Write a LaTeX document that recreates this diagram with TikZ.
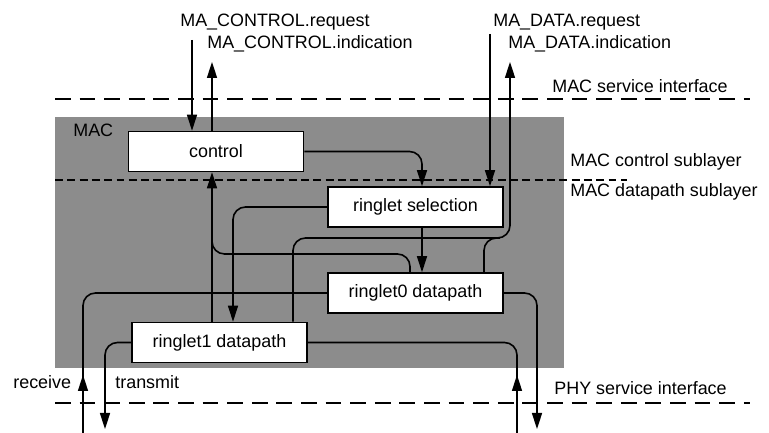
\documentclass[tikz,border=0pt]{standalone}
\usepackage{fontspec}
\setmainfont{Liberation Sans}
\usetikzlibrary{arrows.meta}
\tikzset{
    >={Triangle[length=3.2mm,width=2mm]},
    block/.style={draw, line width=0.9pt, fill=white, minimum width=3.5cm, minimum height=0.8cm},
    lbl/.style={anchor=base west, inner sep=0pt},
    iface/.style={line width=0.6pt, dash pattern=on 9pt off 5pt},
    sublayer/.style={line width=1.2pt, dash pattern=on 4.5pt off 2.5pt},
    wire/.style={line width=0.9pt, rounded corners=2.5mm}
}
\begin{document}
\begin{tikzpicture}[font=\fontsize{10.2}{12}\selectfont]
        \useasboundingbox (0,0) rectangle (15.38,8.66);
        \fill[black!45] (1.10,1.30) rectangle (11.28,6.32);
        \draw[iface] (1.10,6.68) -- (15.00,6.68);
        \draw[sublayer] (1.10,5.06) -- (12.54,5.06);
        \draw[iface] (1.10,0.60) -- (15.00,0.60);
        \node[block] (control) at (4.32,5.63) {control};
        \node[block] (sel) at (8.31,4.52) {ringlet selection};
        \node[block] (ring0) at (8.31,2.80) {ringlet0 datapath};
        \node[block] (ring1) at (4.39,1.81) {ringlet1 datapath};
        \node[lbl] (mac) at (1.46,5.92) {MAC};
        \node[lbl] (creqlbl) at (3.60,8.12) {MA\_CONTROL.request};
        \node[lbl] (cindlbl) at (4.14,7.68) {MA\_CONTROL.indication};
        \node[lbl] (dreqlbl) at (9.86,8.12) {MA\_DATA.request};
        \node[lbl] (dindlbl) at (10.16,7.68) {MA\_DATA.indication};
        \node[lbl] (macsi) at (11.04,6.80) {MAC service interface};
        \node[lbl] (ctrlsub) at (11.40,5.32) {MAC control sublayer};
        \node[lbl] (datasub) at (11.40,4.72) {MAC datapath sublayer};
        \node[lbl] (physi) at (11.08,0.76) {PHY service interface};
        \node[lbl] (rxlbl) at (0.26,0.88) {receive};
        \node[lbl] (txlbl) at (2.30,0.88) {transmit};
        \coordinate (creq) at (3.84,7.86);
        \coordinate (cind) at (4.24,7.42);
        \coordinate (dreq) at (9.80,7.98);
        \coordinate (dind) at (10.20,7.42);
        \coordinate (rxl) at (1.66,0);
        \coordinate (txl) at (2.10,0.08);
        \coordinate (rxr) at (10.34,0);
        \coordinate (txr) at (10.74,0.08);
        \draw[wire,->] (creq) -- (creq |- control.north);
        \draw[wire,->] (cind |- control.north) -- (cind);
        \draw[wire,->] (cind |- ring1.north) -- (cind |- control.south);
        \draw[wire] ([xshift=-1.1mm]ring0.north) |- (4.24,3.58) -- (4.24,4.2);
        \draw[wire,->] (control.east) -| ([xshift=1.3mm]sel.north);
        \draw[wire,->] (dreq) -- (dreq |- sel.north);
        \draw[wire,->] ([xshift=1.47cm]ring1.north) |- (10.20,3.90) -- (dind);
        \draw[wire] ([xshift=1.37cm]ring0.north) |- (10.0,3.90);
        \draw[wire,->] ([xshift=1.3mm]sel.south) -- ([xshift=1.3mm]ring0.north);
        \draw[wire,->] (sel.west) -| ([xshift=2.7mm]ring1.north);
        \draw[wire] (rxl) |- (ring0.west);
        \draw[wire,->] (rxl) -- ++(0,1.16);
        \draw[wire,->] (ring1.west) -| (txl);
        \draw[wire,->] (ring0.east) -| (txr);
        \draw[wire] (rxr) |- (ring1.east);
        \draw[wire,->] (rxr) -- ++(0,1.16);
\end{tikzpicture}
\end{document}
